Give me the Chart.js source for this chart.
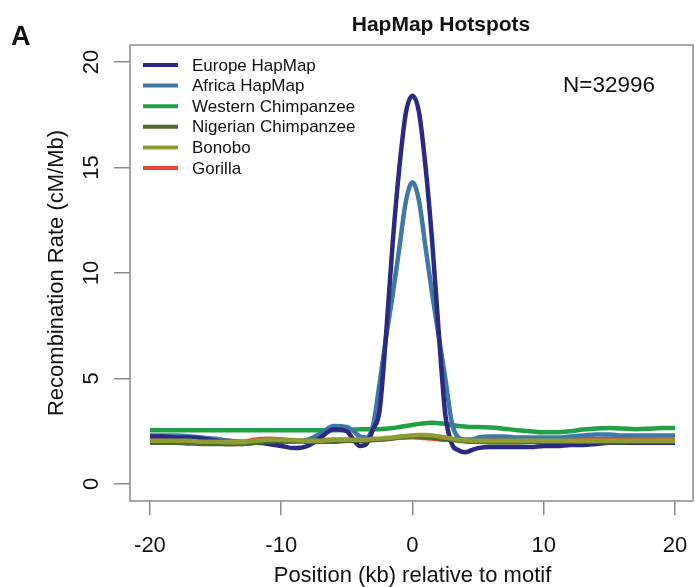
<!DOCTYPE html>
<html>
<head>
<meta charset="utf-8">
<title>HapMap Hotspots</title>
<script src="https://cdn.jsdelivr.net/npm/chart.js@4.4.1/dist/chart.umd.min.js"></script>
<style>
  html, body { margin: 0; padding: 0; background: #ffffff; }
  #wrap { width: 695px; height: 587px; }
</style>
</head>
<body>
<div id="wrap"><canvas id="c" width="695" height="587"></canvas></div>
<script>
// Position relative to the motif (kb)
const positions = [-20, -19, -18, -17, -16, -15, -14, -13, -12, -11, -10, -9, -8, -7, -6, -5,
  -4.5, -4, -3.5, -3, -2.5, -2, -1.5, -1, -0.5, 0, 0.5, 1, 1.5, 2, 2.5, 3, 3.5, 4, 4.5,
  5, 6, 7, 8, 9, 10, 11, 12, 13, 14, 15, 16, 17, 18, 19, 20];

// Recombination rate (cM/Mb) per population
const europeHapMap = [2.25, 2.25, 2.2, 2.2, 2.15, 2.05, 1.95, 1.9, 1.95, 1.9,
  1.8, 1.7, 1.8, 2.2, 2.6, 2.5, 2.1, 1.8, 1.9, 2.6,
  3.5, 7.2, 11.5, 15.0, 17.6, 18.4, 17.6, 15.0, 11.5, 7.2,
  3.3, 1.9, 1.6, 1.5, 1.6, 1.7, 1.75, 1.75, 1.75, 1.75,
  1.8, 1.8, 1.85, 1.85, 1.9, 1.95, 1.95, 1.95, 1.95, 1.95, 1.95];
const africaHapMap = [2.3, 2.3, 2.3, 2.25, 2.2, 2.15, 2.05, 2.0, 2.0, 2.0,
  2.0, 2.0, 2.1, 2.4, 2.75, 2.7, 2.5, 2.25, 2.2, 2.8,
  4.8, 7.0, 9.0, 11.2, 13.4, 14.3, 13.4, 11.2, 9.0, 7.0,
  5.0, 2.9, 2.2, 2.1, 2.1, 2.2, 2.25, 2.25, 2.2, 2.2,
  2.2, 2.2, 2.25, 2.3, 2.35, 2.35, 2.3, 2.3, 2.3, 2.3, 2.3];
const westernChimp = [2.55, 2.55, 2.55, 2.55, 2.55, 2.55, 2.55, 2.55, 2.55, 2.55,
  2.55, 2.55, 2.55, 2.55, 2.55, 2.55, 2.58, 2.6, 2.6, 2.6,
  2.6, 2.62, 2.65, 2.7, 2.75, 2.8, 2.85, 2.88, 2.9, 2.88,
  2.85, 2.8, 2.75, 2.72, 2.7, 2.7, 2.68, 2.62, 2.55, 2.5,
  2.45, 2.45, 2.5, 2.58, 2.63, 2.65, 2.63, 2.6, 2.62, 2.65, 2.65];
const nigerianChimp = [1.95, 1.95, 1.95, 1.92, 1.9, 1.9, 1.88, 1.9, 1.95, 2.0,
  2.05, 2.05, 2.0, 2.0, 2.0, 2.05, 2.05, 2.05, 2.05, 2.08,
  2.1, 2.12, 2.15, 2.2, 2.22, 2.25, 2.25, 2.22, 2.2, 2.15,
  2.12, 2.1, 2.05, 2.02, 2.0, 2.0, 1.98, 1.98, 1.98, 2.0,
  2.0, 2.0, 2.0, 2.0, 2.0, 1.98, 1.98, 2.0, 2.0, 2.0, 2.0];
const bonobo = [2.05, 2.05, 2.05, 2.05, 2.0, 2.0, 1.98, 1.98, 2.05, 2.1,
  2.1, 2.08, 2.05, 2.05, 2.1, 2.1, 2.1, 2.1, 2.1, 2.15,
  2.15, 2.18, 2.2, 2.25, 2.28, 2.3, 2.32, 2.32, 2.3, 2.25,
  2.2, 2.15, 2.1, 2.08, 2.05, 2.05, 2.05, 2.05, 2.05, 2.05,
  2.05, 2.05, 2.05, 2.05, 2.05, 2.05, 2.05, 2.05, 2.05, 2.05, 2.05];
const gorilla = [2.1, 2.12, 2.12, 2.12, 2.12, 2.1, 2.05, 2.0, 2.1, 2.15,
  2.12, 2.05, 2.05, 2.08, 2.1, 2.1, 2.1, 2.1, 2.1, 2.12,
  2.12, 2.15, 2.18, 2.2, 2.22, 2.22, 2.2, 2.18, 2.15, 2.12,
  2.1, 2.1, 2.1, 2.1, 2.1, 2.1, 2.1, 2.1, 2.1, 2.1,
  2.1, 2.12, 2.12, 2.12, 2.12, 2.14, 2.14, 2.12, 2.1, 2.1, 2.1];

const seriesNames = ['Europe HapMap', 'Africa HapMap', 'Western Chimpanzee',
  'Nigerian Chimpanzee', 'Bonobo', 'Gorilla'];
const seriesValues = [europeHapMap, africaHapMap, westernChimp, nigerianChimp, bonobo, gorilla];
const seriesColors = ['#2c2a80', '#3d78a8', '#22a046', '#4d6a2d', '#8f9c32', '#e8402e'];
// lower order is painted on top
const seriesOrder = [3, 4, 5, 2, 1, 6];

const xTickValues = [-20, -10, 0, 10, 20];
const yTickValues = [0, 5, 10, 15, 20];

const FONT = '"Liberation Sans", Arial, Helvetica, sans-serif';
const AXIS_GREY = '#8a8a8a';

const datasets = seriesNames.map((name, i) => ({
  label: name,
  data: positions.map((p, j) => ({ x: p, y: seriesValues[i][j] })),
  borderColor: seriesColors[i],
  backgroundColor: seriesColors[i],
  borderWidth: 4.5,
  pointRadius: 0,
  fill: false,
  cubicInterpolationMode: 'monotone',
  order: seriesOrder[i]
}));

// Plot frame, y tick labels, axis titles, legend and annotations
const decorations = {
  id: 'decorations',
  afterDraw(chart) {
    const { ctx, chartArea: a, scales } = chart;
    ctx.save();

    // box round the plotting region
    ctx.strokeStyle = AXIS_GREY;
    ctx.lineWidth = 1.5;
    ctx.strokeRect(a.left, a.top, a.right - a.left, a.bottom - a.top);

    ctx.fillStyle = '#111111';

    // y tick labels, written along the axis
    ctx.font = '22px ' + FONT;
    ctx.textAlign = 'center';
    ctx.textBaseline = 'middle';
    yTickValues.forEach(v => {
      const y = scales.y.getPixelForValue(v);
      ctx.save();
      ctx.translate(92, y);
      ctx.rotate(-Math.PI / 2);
      ctx.fillText(String(v), 0, 0);
      ctx.restore();
    });

    // y axis title
    ctx.save();
    ctx.translate(57, (a.top + a.bottom) / 2);
    ctx.rotate(-Math.PI / 2);
    ctx.fillText('Recombination Rate (cM/Mb)', 0, 0);
    ctx.restore();

    // x axis title
    ctx.fillText('Position (kb) relative to motif', (scales.x.getPixelForValue(-20) + scales.x.getPixelForValue(20)) / 2, 576);

    // main title and panel letter
    ctx.font = 'bold 21px ' + FONT;
    ctx.fillText('HapMap Hotspots', 441, 25);
    ctx.font = 'bold 27px ' + FONT;
    ctx.textAlign = 'left';
    ctx.fillText('A', 11, 38);

    // sample size
    ctx.font = '22.5px ' + FONT;
    ctx.fillText('N=32996', 563, 86);

    // legend
    ctx.font = '17px ' + FONT;
    chart.data.datasets.forEach((ds, i) => {
      const y = 65 + i * 20.6;
      ctx.strokeStyle = ds.borderColor;
      ctx.lineWidth = 4;
      ctx.beginPath();
      ctx.moveTo(143, y);
      ctx.lineTo(178, y);
      ctx.stroke();
      ctx.fillStyle = '#111111';
      ctx.fillText(ds.label, 192, y + 1);
    });

    ctx.restore();
  }
};

new Chart(document.getElementById('c'), {
  type: 'line',
  data: { datasets },
  plugins: [decorations],
  options: {
    responsive: false,
    animation: false,
    devicePixelRatio: 1,
    layout: { padding: { top: 45, right: 2, left: 0, bottom: 0 } },
    plugins: {
      legend: { display: false },
      tooltip: { enabled: false },
      title: { display: false }
    },
    scales: {
      x: {
        type: 'linear',
        min: -21.52,
        max: 21.37,
        afterBuildTicks: s => { s.ticks = xTickValues.map(v => ({ value: v })); },
        afterFit: s => { s.height = 86; s.paddingLeft = 0; s.paddingRight = 0; },
        ticks: {
          color: '#111111',
          font: { family: FONT, size: 22 },
          padding: 18,
          maxRotation: 0,
          autoSkip: false,
          callback: v => String(v)
        },
        grid: {
          display: true,
          drawOnChartArea: false,
          drawTicks: true,
          tickLength: 14,
          color: AXIS_GREY,
          lineWidth: 1.5
        },
        border: { display: false }
      },
      y: {
        type: 'linear',
        min: -0.806,
        max: 20.806,
        afterBuildTicks: s => { s.ticks = yTickValues.map(v => ({ value: v })); },
        afterFit: s => { s.width = 130; s.paddingTop = 0; s.paddingBottom = 0; },
        ticks: { display: false },
        grid: {
          display: true,
          drawOnChartArea: false,
          drawTicks: true,
          tickLength: 16,
          color: AXIS_GREY,
          lineWidth: 1.5
        },
        border: { display: false }
      }
    }
  }
});
</script>
</body>
</html>
